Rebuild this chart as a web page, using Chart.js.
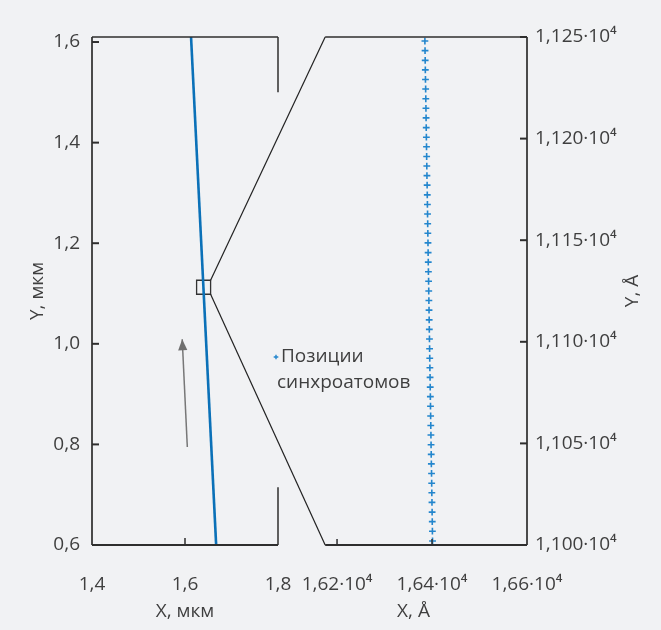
<!DOCTYPE html>
<html>
<head>
<meta charset="utf-8">
<script src="https://cdn.jsdelivr.net/npm/chart.js@4.4.0/dist/chart.umd.min.js"></script>
<style>
  html, body { margin: 0; padding: 0; background: #f1f2f4; }
  #wrap { width: 661px; height: 630px; }
</style>
</head>
<body>
<div id="wrap"><canvas id="c" width="661" height="630"></canvas></div>
<script>
// ---------------- data ----------------
// left panel (micrometres)
const leftXTicks = [1.4, 1.6, 1.8];
const leftXTickLabels = ['1,4', '1,6', '1,8'];
const leftYTicks = [0.6, 0.8, 1.0, 1.2, 1.4, 1.6];
const leftYTickLabels = ['0,6', '0,8', '1,0', '1,2', '1,4', '1,6'];
const traceX = [1.613, 1.667];
const traceY = [1.61, 0.60];
const arrowX = [1.605, 1.594];
const arrowY = [0.795, 1.009];
const zoomCenterX = [1.640];
const zoomCenterY = [1.1125];

// right panel (angstrom)
const rightXTicks = [16200, 16400, 16600];
const rightXTickLabels = ['1,62·10⁴', '1,64·10⁴', '1,66·10⁴'];
const rightYTicks = [11000, 11050, 11100, 11150, 11200, 11250];
const rightYTickLabels = ['1,100·10⁴', '1,105·10⁴', '1,110·10⁴', '1,115·10⁴', '1,120·10⁴', '1,125·10⁴'];
const atomX = [
  16385.0, 16385.3, 16385.6, 16385.9, 16386.2, 16386.6, 16386.9, 16387.2, 16387.5, 16387.8,
  16388.1, 16388.4, 16388.7, 16389.0, 16389.3, 16389.7, 16390.0, 16390.3, 16390.6, 16390.9,
  16391.2, 16391.5, 16391.8, 16392.1, 16392.4, 16392.8, 16393.1, 16393.4, 16393.7, 16394.0,
  16394.3, 16394.6, 16394.9, 16395.2, 16395.5, 16395.9, 16396.2, 16396.5, 16396.8, 16397.1,
  16397.4, 16397.7, 16398.0, 16398.3, 16398.6, 16399.0, 16399.3, 16399.6, 16399.9, 16400.2,
  16400.5, 16400.8, 16401.1
];
const atomY = [
  11248.0, 11243.3, 11238.5, 11233.8, 11229.1, 11224.4, 11219.6, 11214.9, 11210.2, 11205.4,
  11200.7, 11196.0, 11191.2, 11186.5, 11181.8, 11177.1, 11172.3, 11167.6, 11162.9, 11158.1,
  11153.4, 11148.7, 11143.9, 11139.2, 11134.5, 11129.8, 11125.0, 11120.3, 11115.6, 11110.8,
  11106.1, 11101.4, 11096.6, 11091.9, 11087.2, 11082.5, 11077.7, 11073.0, 11068.3, 11063.5,
  11058.8, 11054.1, 11049.3, 11044.6, 11039.9, 11035.2, 11030.4, 11025.7, 11021.0, 11016.2,
  11011.5, 11006.8, 11002.0
];
const legendLines = ['Позиции', 'синхроатомов'];

// ---------------- helpers ----------------
const pts = (xs, ys) => xs.map((v, i) => ({ x: v, y: ys[i] }));
const labelFrom = (ticks, labels) => (v) => {
  const i = ticks.findIndex(t => Math.abs(t - v) < 1e-9);
  return i >= 0 ? labels[i] : '';
};
const setTicks = (ticks) => (scale) => { scale.ticks = ticks.map(v => ({ value: v })); };

const FONT = "'Open Sans', 'Noto Sans', 'DejaVu Sans', sans-serif";
const TXT = '#3f3f3f';
const FS = 19;
Chart.defaults.font.family = FONT;
Chart.defaults.font.size = FS;
Chart.defaults.color = TXT;

const BG = '#f1f2f4';
const BLUE = '#0b71b8';
const MARK = '#2386cd';
const DARK = '#2e2e2e';

const decor = {
  id: 'decor',
  beforeDraw(chart) {
    const { ctx } = chart;
    ctx.save();
    ctx.fillStyle = BG;
    ctx.fillRect(0, 0, chart.width, chart.height);
    ctx.restore();
  },
  afterDatasetsDraw(chart) {
    const { ctx, chartArea: ca } = chart;
    const { x, y, x2, y2 } = chart.scales;
    const top = ca.top, bot = ca.bottom;
    const L = x.getPixelForValue(1.4), R = x.getPixelForValue(1.8);
    const RL = x2.getPixelForValue(16175), RR = x2.getPixelForValue(16600);
    const line = (x0, y0, x1, y1, w, c) => {
      ctx.beginPath(); ctx.moveTo(x0, y0); ctx.lineTo(x1, y1);
      ctx.lineWidth = w; ctx.strokeStyle = c; ctx.stroke();
    };
    ctx.save();
    ctx.lineCap = 'butt';
    // left panel frame
    line(L, top, L, bot, 2, '#4a4a4a');
    line(L, top, R, top, 1.5, DARK);
    line(L, bot, R, bot, 2, DARK);
    line(R, top, R, y.getPixelForValue(1.5), 1.5, DARK);
    line(R, y.getPixelForValue(0.715), R, bot, 1.5, DARK);
    leftYTicks.forEach(v => { const p = y.getPixelForValue(v); line(L, p, L + 7, p, 2, DARK); });
    [1.6].forEach(v => { const p = x.getPixelForValue(v); line(p, bot, p, bot - 7, 1.5, DARK); });
    // right panel frame
    line(RL, top, RR, top, 1.5, DARK);
    line(RL, bot, RR, bot, 2, DARK);
    line(RR, top, RR, bot, 2, '#4a4a4a');
    rightYTicks.forEach(v => { const p = y2.getPixelForValue(v); line(RR - 7, p, RR, p, 2, DARK); });
    [16200, 16400].forEach(v => { const p = x2.getPixelForValue(v); line(p, bot, p, bot - 6, 1.5, DARK); });
    // connecting lines from the zoom square
    const sq = chart.getDatasetMeta(2).data[0];
    const half = 9.9 * Math.SQRT1_2;
    line(sq.x + half, sq.y - half, RL, top, 1.2, '#222');
    line(sq.x + half, sq.y + half, RL, bot, 1.2, '#222');
    // arrow head
    const ax0 = x.getPixelForValue(arrowX[0]), ay0 = y.getPixelForValue(arrowY[0]);
    const ax1 = x.getPixelForValue(arrowX[1]), ay1 = y.getPixelForValue(arrowY[1]);
    const ang = Math.atan2(ay1 - ay0, ax1 - ax0);
    const hl = 11, hw = 4.6;
    const bx = ax1 - hl * Math.cos(ang), by = ay1 - hl * Math.sin(ang);
    ctx.beginPath();
    ctx.moveTo(ax1, ay1);
    ctx.lineTo(bx + hw * Math.sin(ang), by - hw * Math.cos(ang));
    ctx.lineTo(bx - hw * Math.sin(ang), by + hw * Math.cos(ang));
    ctx.closePath();
    ctx.fillStyle = '#6f6f6f';
    ctx.fill();
    // legend
    const lx = ca.left + 184, ly = ca.top + 320;
    ctx.strokeStyle = MARK; ctx.lineWidth = 1.4;
    ctx.beginPath();
    ctx.moveTo(lx - 2.3, ly); ctx.lineTo(lx + 2.3, ly);
    ctx.moveTo(lx, ly - 2.3); ctx.lineTo(lx, ly + 2.3);
    ctx.stroke();
    ctx.fillStyle = TXT;
    ctx.font = FS + 'px ' + FONT;
    ctx.textBaseline = 'middle';
    ctx.textAlign = 'left';
    ctx.fillText(legendLines[0], lx + 5, ly);
    ctx.fillText(legendLines[1], lx + 1, ly + 26);
    // right y-axis title (reads bottom to top)
    ctx.save();
    ctx.translate(633, (top + bot) / 2);
    ctx.rotate(-Math.PI / 2);
    ctx.textAlign = 'center';
    ctx.fillText('Y, Å', 0, 0);
    ctx.restore();
    ctx.restore();
  }
};

const fixW = (w) => (s) => { s.width = w; };
const fixH = (h) => (s) => { s.height = h; };

new Chart(document.getElementById('c'), {
  type: 'scatter',
  data: {
    datasets: [
      { label: 'trace', data: pts(traceX, traceY), xAxisID: 'x', yAxisID: 'y',
        showLine: true, borderColor: BLUE, borderWidth: 2.6, pointRadius: 0 },
      { label: 'arrow', data: pts(arrowX, arrowY), xAxisID: 'x', yAxisID: 'y',
        showLine: true, borderColor: '#777', borderWidth: 1.5, pointRadius: 0 },
      { label: 'zoom', data: pts(zoomCenterX, zoomCenterY), xAxisID: 'x', yAxisID: 'y',
        pointStyle: 'rect', pointRadius: 9.9, borderColor: '#333', borderWidth: 1.3,
        backgroundColor: 'rgba(0,0,0,0)' },
      { label: 'Позиции синхроатомов', data: pts(atomX, atomY), xAxisID: 'x2', yAxisID: 'y2',
        pointStyle: 'cross', pointRadius: 3.4, borderColor: MARK, borderWidth: 1.6 }
    ]
  },
  options: {
    responsive: false,
    animation: false,
    devicePixelRatio: 1,
    layout: { padding: { top: 37, left: 0, right: 0, bottom: 0 } },
    plugins: { legend: { display: false }, tooltip: { enabled: false } },
    scales: {
      x: {
        type: 'linear', position: 'bottom', stack: 'bx', stackWeight: 186,
        min: 1.4, max: 1.8,
        afterBuildTicks: setTicks(leftXTicks), afterFit: fixH(85),
        grid: { display: false, drawTicks: false }, border: { display: false },
        ticks: { padding: 28, autoSkip: false, maxRotation: 0, callback: labelFrom(leftXTicks, leftXTickLabels) },
        title: { display: true, text: 'X, мкм', padding: { top: 0, bottom: 7 } }
      },
      xg: {
        type: 'linear', position: 'bottom', stack: 'bx', stackWeight: 22,
        min: 0, max: 1, afterFit: fixH(85),
        grid: { display: false, drawTicks: false }, border: { display: false },
        ticks: { display: false }
      },
      x2: {
        type: 'linear', position: 'bottom', stack: 'bx', stackWeight: 227,
        min: 16122, max: 16600,
        afterBuildTicks: setTicks(rightXTicks), afterFit: fixH(85),
        grid: { display: false, drawTicks: false }, border: { display: false },
        ticks: { padding: 28, autoSkip: false, maxRotation: 0, callback: labelFrom(rightXTicks, rightXTickLabels) },
        title: { display: true, text: 'X, Å', padding: { top: 0, bottom: 7 } }
      },
      y: {
        type: 'linear', position: 'left', min: 0.6, max: 1.61,
        afterBuildTicks: setTicks(leftYTicks), afterFit: fixW(92),
        grid: { display: false, drawTicks: false }, border: { display: false },
        ticks: { padding: 12, autoSkip: false, callback: labelFrom(leftYTicks, leftYTickLabels) },
        title: { display: true, text: 'Y, мкм', padding: { top: 26, bottom: 0 } }
      },
      y2: {
        type: 'linear', position: 'right', min: 11000, max: 11250,
        afterBuildTicks: setTicks(rightYTicks), afterFit: fixW(134),
        grid: { display: false, drawTicks: false }, border: { display: false },
        ticks: { padding: 8, autoSkip: false, callback: labelFrom(rightYTicks, rightYTickLabels) }
      }
    }
  },
  plugins: [decor]
});
</script>
</body>
</html>
